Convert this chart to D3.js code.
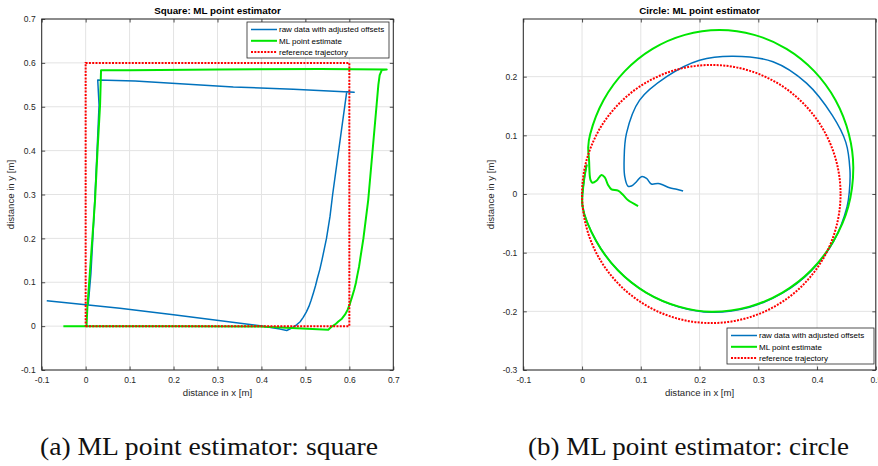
<!DOCTYPE html>
<html><head><meta charset="utf-8">
<script src="https://cdn.jsdelivr.net/npm/d3@7"></script>
<style>
body{margin:0;background:#fff}
svg text{font-family:"Liberation Sans",Arial,Helvetica,sans-serif}
</style>
</head><body>
<svg id="chart" width="878" height="466"></svg>
<script>
// ---- data (metres) ----
const seriesNames = ["raw data with adjusted offsets", "ML point estimate", "reference trajectory"];
const seriesColors = ["#0072BD", "#00E600", "#FF0000"];

const squareTicks = [-0.1, 0, 0.1, 0.2, 0.3, 0.4, 0.5, 0.6, 0.7];
const circleXTicks = [-0.1, 0, 0.1, 0.2, 0.3, 0.4, 0.5];
const circleYTicks = [-0.3, -0.2, -0.1, 0, 0.1, 0.2];

// square run: raw odometry with offsets removed
const squareRaw = [
  [-0.0885, 0.058], [0.078, 0.041], [0.2, 0.026], [0.397, 0.0007], [0.4423, -0.0068],
  [0.4575, -0.010], [0.469, -0.0046], [0.48, 0.003], [0.488, 0.010], [0.495, 0.020],
  [0.502, 0.032], [0.508, 0.045], [0.513, 0.059], [0.518, 0.075], [0.523, 0.092],
  [0.527, 0.108], [0.533, 0.13], [0.538, 0.152], [0.543, 0.176], [0.548, 0.2],
  [0.556, 0.25], [0.562, 0.3], [0.594, 0.534], [0.611, 0.533], [0.4726, 0.540],
  [0.336, 0.545], [0.1124, 0.5588], [0.0275, 0.561], [0.0305, 0.504], [0.026, 0.4],
  [0.019, 0.25], [0.012, 0.12], [0.006, 0.05]
];
// square run: ML point estimate
const squareML = [
  [-0.0507, 0.0], [0.2, 0.0], [0.397, -0.001], [0.552, -0.0084], [0.56, -0.001],
  [0.568, 0.004], [0.575, 0.0105], [0.583, 0.017], [0.59, 0.026], [0.596, 0.037],
  [0.6016, 0.052], [0.606, 0.066], [0.611, 0.083], [0.615, 0.099], [0.618, 0.115],
  [0.622, 0.135], [0.625, 0.155], [0.632, 0.2], [0.643, 0.288], [0.662, 0.504],
  [0.666, 0.55], [0.669, 0.572], [0.674, 0.584], [0.685, 0.585], [0.533, 0.586],
  [0.3, 0.585], [0.1, 0.583], [0.035, 0.583], [0.0328, 0.504], [0.027, 0.4],
  [0.0214, 0.287], [0.0084, 0.105], [0.004, 0.045], [0.002, 0.0]
];
// square reference corners
const squareRef = [[0, 0], [0.6, 0], [0.6, 0.6], [0, 0.6], [0, 0]];

// circle run: raw odometry with offsets removed
const circleRaw = [
  [0.172, 0.005], [0.161, 0.008], [0.149, 0.0107], [0.138, 0.0153], [0.1295, 0.018],
  [0.118, 0.017], [0.1097, 0.0267], [0.101, 0.0295], [0.0927, 0.021], [0.084, 0.0136],
  [0.078, 0.0136], [0.0727, 0.0295], [0.0716, 0.058], [0.0756, 0.1034], [0.098, 0.16],
  [0.144, 0.2], [0.2, 0.228], [0.257, 0.235], [0.325, 0.2255], [0.382, 0.189],
  [0.426, 0.134], [0.449, 0.088], [0.456, 0.041], [0.455, 0.005], [0.451, -0.022],
  [0.428, -0.081], [0.390, -0.131], [0.341, -0.169], [0.285, -0.193], [0.221, -0.2015],
  [0.165, -0.1925], [0.109, -0.168], [0.061, -0.130], [0.024, -0.080], [0.001, -0.022],
  [0.003, 0.02], [0.008, 0.05]
];
// circle run: ML point estimate
const circleML = [
  [0.0954, -0.0205], [0.078, -0.0102], [0.07, -0.0017], [0.0613, 0.0056], [0.05, 0.008],
  [0.0443, 0.0153], [0.0387, 0.0284], [0.033, 0.0324], [0.0245, 0.0227], [0.0177, 0.0193],
  [0.0143, 0.024], [0.0119, 0.058], [0.0105, 0.08], [0.0138, 0.102], [0.0365, 0.1598],
  [0.0728, 0.2094], [0.12, 0.2474], [0.175, 0.2713], [0.234, 0.2795], [0.293, 0.2713],
  [0.348, 0.2474], [0.3952, 0.2094], [0.4315, 0.1598], [0.4542, 0.102], [0.4617, 0.045],
  [0.453, -0.022], [0.428, -0.080], [0.390, -0.130], [0.341, -0.168], [0.285, -0.192],
  [0.220, -0.2006], [0.165, -0.192], [0.109, -0.168], [0.061, -0.130], [0.024, -0.080],
  [0.001, -0.022], [0.003, 0.02], [0.008, 0.05]
];
// circle reference: centre and radius
const circleRefCentre = [0.22, 0];
const circleRefRadius = 0.22;

const titles = ["Square: ML point estimator", "Circle: ML point estimator"];
const captions = ["(a) ML point estimator: square", "(b) ML point estimator: circle"];
const xLabel = "distance in x [m]";
const yLabel = "distance in y [m]";

// ---- drawing ----
const svg = d3.select("#chart");
const axisColor = "#262626";
const fmt = d => (Math.abs(d) < 1e-9 ? "0" : String(+d.toFixed(1)));

function panel(cfg) {
  const x = d3.scaleLinear().domain(cfg.xDomain).range([cfg.left, cfg.right]);
  const y = d3.scaleLinear().domain(cfg.yDomain).range([cfg.bottom, cfg.top]);
  const g = svg.append("g");
  const w = cfg.right - cfg.left, h = cfg.bottom - cfg.top;

  // grid
  g.append("g").selectAll("line").data(cfg.xTicks).join("line")
    .attr("x1", d => x(d)).attr("x2", d => x(d)).attr("y1", cfg.top).attr("y2", cfg.bottom)
    .attr("stroke", "#e3e3e3").attr("stroke-width", 1);
  g.append("g").selectAll("line").data(cfg.yTicks).join("line")
    .attr("y1", d => y(d)).attr("y2", d => y(d)).attr("x1", cfg.left).attr("x2", cfg.right)
    .attr("stroke", "#e3e3e3").attr("stroke-width", 1);

  // axes with inward ticks on all four sides
  const tk = 3.5;
  const styleAxis = sel => {
    sel.select(".domain").remove();
    sel.selectAll(".tick line").attr("stroke", axisColor).attr("stroke-width", 0.8);
    sel.selectAll(".tick text").attr("fill", axisColor).attr("font-size", 8.5)
      .attr("font-family", "'Liberation Sans', Arial, sans-serif");
  };
  g.append("g").attr("transform", `translate(0,${cfg.bottom})`)
    .call(d3.axisBottom(x).tickValues(cfg.xTicks).tickFormat(fmt).tickSizeInner(-tk).tickSizeOuter(0).tickPadding(7))
    .call(styleAxis);
  g.append("g").attr("transform", `translate(0,${cfg.top})`)
    .call(d3.axisTop(x).tickValues(cfg.xTicks).tickFormat("").tickSizeInner(-tk).tickSizeOuter(0))
    .call(styleAxis);
  g.append("g").attr("transform", `translate(${cfg.left},0)`)
    .call(d3.axisLeft(y).tickValues(cfg.yTicks).tickFormat(fmt).tickSizeInner(-tk).tickSizeOuter(0).tickPadding(6))
    .call(styleAxis);
  g.append("g").attr("transform", `translate(${cfg.right},0)`)
    .call(d3.axisRight(y).tickValues(cfg.yTicks).tickFormat("").tickSizeInner(-tk).tickSizeOuter(0))
    .call(styleAxis);

  // clip to plot area
  const clipId = "clip" + cfg.id;
  svg.append("clipPath").attr("id", clipId).append("rect")
    .attr("x", cfg.left).attr("y", cfg.top).attr("width", w).attr("height", h);
  const plot = g.append("g").attr("clip-path", `url(#${clipId})`);

  const line = d3.line().x(d => x(d[0])).y(d => y(d[1]))
    .curve(cfg.smooth ? d3.curveCatmullRom.alpha(0.5) : d3.curveLinear);
  const straight = d3.line().x(d => x(d[0])).y(d => y(d[1]));

  plot.append("path").attr("d", line(cfg.raw)).attr("fill", "none")
    .attr("stroke", seriesColors[0]).attr("stroke-width", 1.5).attr("stroke-linejoin", "round");
  plot.append("path").attr("d", line(cfg.ml)).attr("fill", "none")
    .attr("stroke", seriesColors[1]).attr("stroke-width", 2).attr("stroke-linejoin", "round");
  if (cfg.refPath) {
    plot.append("path").attr("d", straight(cfg.refPath)).attr("fill", "none")
      .attr("stroke", seriesColors[2]).attr("stroke-width", 2).attr("stroke-dasharray", "2,1.3");
  } else {
    plot.append("ellipse")
      .attr("cx", x(cfg.refCentre[0])).attr("cy", y(cfg.refCentre[1]))
      .attr("rx", x(cfg.refCentre[0] + cfg.refRadius) - x(cfg.refCentre[0]))
      .attr("ry", y(cfg.refCentre[1]) - y(cfg.refCentre[1] + cfg.refRadius))
      .attr("fill", "none").attr("stroke", seriesColors[2]).attr("stroke-width", 2)
      .attr("stroke-dasharray", "2,1.3");
  }

  // box
  g.append("rect").attr("x", cfg.left).attr("y", cfg.top).attr("width", w).attr("height", h)
    .attr("fill", "none").attr("stroke", axisColor).attr("stroke-width", 1);

  // title and axis labels
  g.append("text").attr("x", (cfg.left + cfg.right) / 2).attr("y", cfg.top - 5)
    .attr("text-anchor", "middle").attr("font-size", 9.8).attr("font-weight", "bold")
    .attr("fill", "#000").text(cfg.title);
  g.append("text").attr("x", (cfg.left + cfg.right) / 2).attr("y", cfg.bottom + 26)
    .attr("text-anchor", "middle").attr("font-size", 9.6).attr("fill", axisColor).text(xLabel);
  g.append("text").attr("transform", `translate(${cfg.yLabelX},${(cfg.top + cfg.bottom) / 2}) rotate(-90)`)
    .attr("text-anchor", "middle").attr("font-size", 9.6).attr("fill", axisColor).text(yLabel);

  // legend
  const L = cfg.legend;
  const lg = g.append("g");
  lg.append("rect").attr("x", L.x).attr("y", L.y).attr("width", L.w).attr("height", L.h)
    .attr("fill", "#fff").attr("stroke", axisColor).attr("stroke-width", 0.8);
  seriesNames.forEach((name, i) => {
    const yy = L.y + 7.5 + i * 11.3;
    lg.append("line").attr("x1", L.x + 4).attr("x2", L.x + 30).attr("y1", yy).attr("y2", yy)
      .attr("stroke", seriesColors[i]).attr("stroke-width", i === 0 ? 1.5 : 2)
      .attr("stroke-dasharray", i === 2 ? "2,1.3" : null);
    lg.append("text").attr("x", L.x + 32).attr("y", yy).attr("dy", "0.35em")
      .attr("font-size", 8).attr("fill", "#000").text(name);
  });

  // caption
  svg.append("text").attr("x", cfg.captionX).attr("y", 455)
    .attr("font-size", 25).attr("fill", "#111")
    .attr("textLength", cfg.captionW).attr("lengthAdjust", "spacingAndGlyphs")
    .style("font-family", "'Liberation Serif','DejaVu Serif',serif")
    .text(cfg.caption);
}

panel({
  id: "a", left: 41.7, right: 393.3, top: 19, bottom: 370,
  xDomain: [-0.1, 0.7], yDomain: [-0.1, 0.7], xTicks: squareTicks, yTicks: squareTicks,
  raw: squareRaw, ml: squareML, refPath: squareRef, smooth: false,
  title: titles[0], yLabelX: 14,
  legend: {x: 247, y: 22, w: 142, h: 36},
  caption: captions[0], captionX: 40, captionW: 338
});

panel({
  id: "b", left: 523.3, right: 875.8, top: 19, bottom: 370,
  xDomain: [-0.1, 0.5], yDomain: [-0.3, 0.2983], xTicks: circleXTicks, yTicks: circleYTicks,
  raw: circleRaw, ml: circleML, refCentre: circleRefCentre, refRadius: circleRefRadius, smooth: true,
  title: titles[1], yLabelX: 494,
  legend: {x: 727, y: 328, w: 147, h: 36},
  caption: captions[1], captionX: 528, captionW: 321
});
</script>
</body></html>
